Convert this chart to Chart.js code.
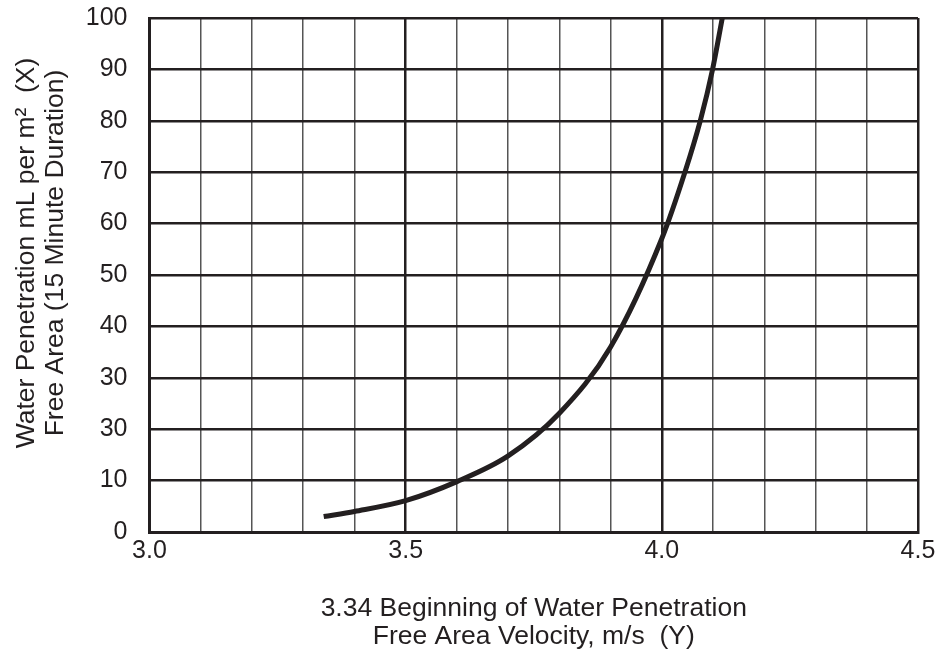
<!DOCTYPE html>
<html>
<head>
<meta charset="utf-8">
<script src="https://cdn.jsdelivr.net/npm/chart.js@4/dist/chart.umd.min.js"></script>
<style>
  html, body { margin: 0; padding: 0; background: #ffffff; }
  #wrap { width: 941px; height: 656px; position: relative; }
</style>
</head>
<body>
<div id="wrap"><canvas id="c" width="941" height="656"></canvas></div>
<script>
// Curve: free area velocity (m/s) vs water penetration
const velocity    = [3.34, 3.40, 3.50, 3.60, 3.70, 3.80, 3.90, 4.00, 4.045, 4.075, 4.099, 4.118];
const penetration = [3.0,  4.0,  6.1,  9.8,  14.8, 23.1, 36.0, 57.1, 70.0,  80.0,  90.0,  100.0];

// Tick labels as printed on the original (note the "30" printed at the 20 line)
const xTickLabels = ['3.0', '3.5', '4.0', '4.5'];
const yTickLabels = ['0', '10', '30', '30', '40', '50', '60', '70', '80', '90', '100'];

const xTitle = ['3.34 Beginning of Water Penetration', 'Free Area Velocity, m/s  (Y)'];
const yTitle = ['Water Penetration mL per m\u00B2  (X)', 'Free Area (15 Minute Duration)'];

const INK = '#231f20';
const FONT = "'Liberation Sans', Arial, Helvetica, sans-serif";

const points = velocity.map((v, i) => ({ x: v, y: penetration[i] }));

// Vertical axis title, drawn as real text, slightly above the plot centre as in the original
const yTitlePlugin = {
  id: 'yTitle',
  afterDraw(chart) {
    const ctx = chart.ctx;
    const size = 26.5, lh = 28.6;
    ctx.save();
    ctx.translate(27, 253);
    ctx.rotate(-Math.PI / 2);
    ctx.fillStyle = INK;
    ctx.font = size + "px " + FONT;
    ctx.textAlign = 'center';
    ctx.textBaseline = 'middle';
    yTitle.forEach((line, i) => ctx.fillText(line, 0, i * lh));
    ctx.restore();
  }
};

new Chart(document.getElementById('c'), {
  type: 'scatter',
  data: {
    datasets: [{
      data: points,
      showLine: true,
      borderColor: INK,
      borderWidth: 5,
      pointRadius: 0,
      cubicInterpolationMode: 'monotone',
      borderCapStyle: 'butt'
    }]
  },
  plugins: [yTitlePlugin],
  options: {
    responsive: false,
    animation: false,
    events: [],
    layout: { padding: { top: 18, right: 23, left: 0, bottom: 0 } },
    plugins: { legend: { display: false }, tooltip: { enabled: false } },
    scales: {
      x: {
        type: 'linear',
        min: 3.0,
        max: 4.5,
        afterFit: (s) => { s.height = 124; },
        border: { display: true, color: INK, width: 3 },
        grid: {
          drawTicks: false,
          color: (ctx) => (ctx.tick && Math.round(ctx.tick.value * 10) % 5 === 0) ? INK : '#555555',
          lineWidth: (ctx) => (ctx.tick && Math.round(ctx.tick.value * 10) % 5 === 0) ? 2.5 : 1.5
        },
        ticks: {
          stepSize: 0.1,
          autoSkip: false,
          maxRotation: 0,
          padding: 4,
          color: INK,
          font: { family: FONT, size: 25 },
          callback: (v) => {
            const k = Math.round(v * 10);
            if (k % 5 !== 0) return '';
            return xTickLabels[Math.round((k - 30) / 5)];
          }
        },
        title: {
          display: true,
          text: xTitle,
          color: INK,
          font: { family: FONT, size: 26.5, lineHeight: 1.06 },
          padding: { top: 0, bottom: 5 }
        }
      },
      y: {
        type: 'linear',
        min: 0,
        max: 100,
        afterFit: (s) => { s.width = 149.5; s.paddingTop = 0; s.paddingBottom = 0; },
        border: { display: true, color: INK, width: 3 },
        grid: {
          drawTicks: false,
          color: INK,
          lineWidth: 2.5
        },
        ticks: {
          stepSize: 10,
          padding: 22,
          color: INK,
          font: { family: FONT, size: 25 },
          callback: (v) => yTickLabels[Math.round(v / 10)]
        },
        title: { display: false }
      }
    }
  }
});
</script>
</body>
</html>
